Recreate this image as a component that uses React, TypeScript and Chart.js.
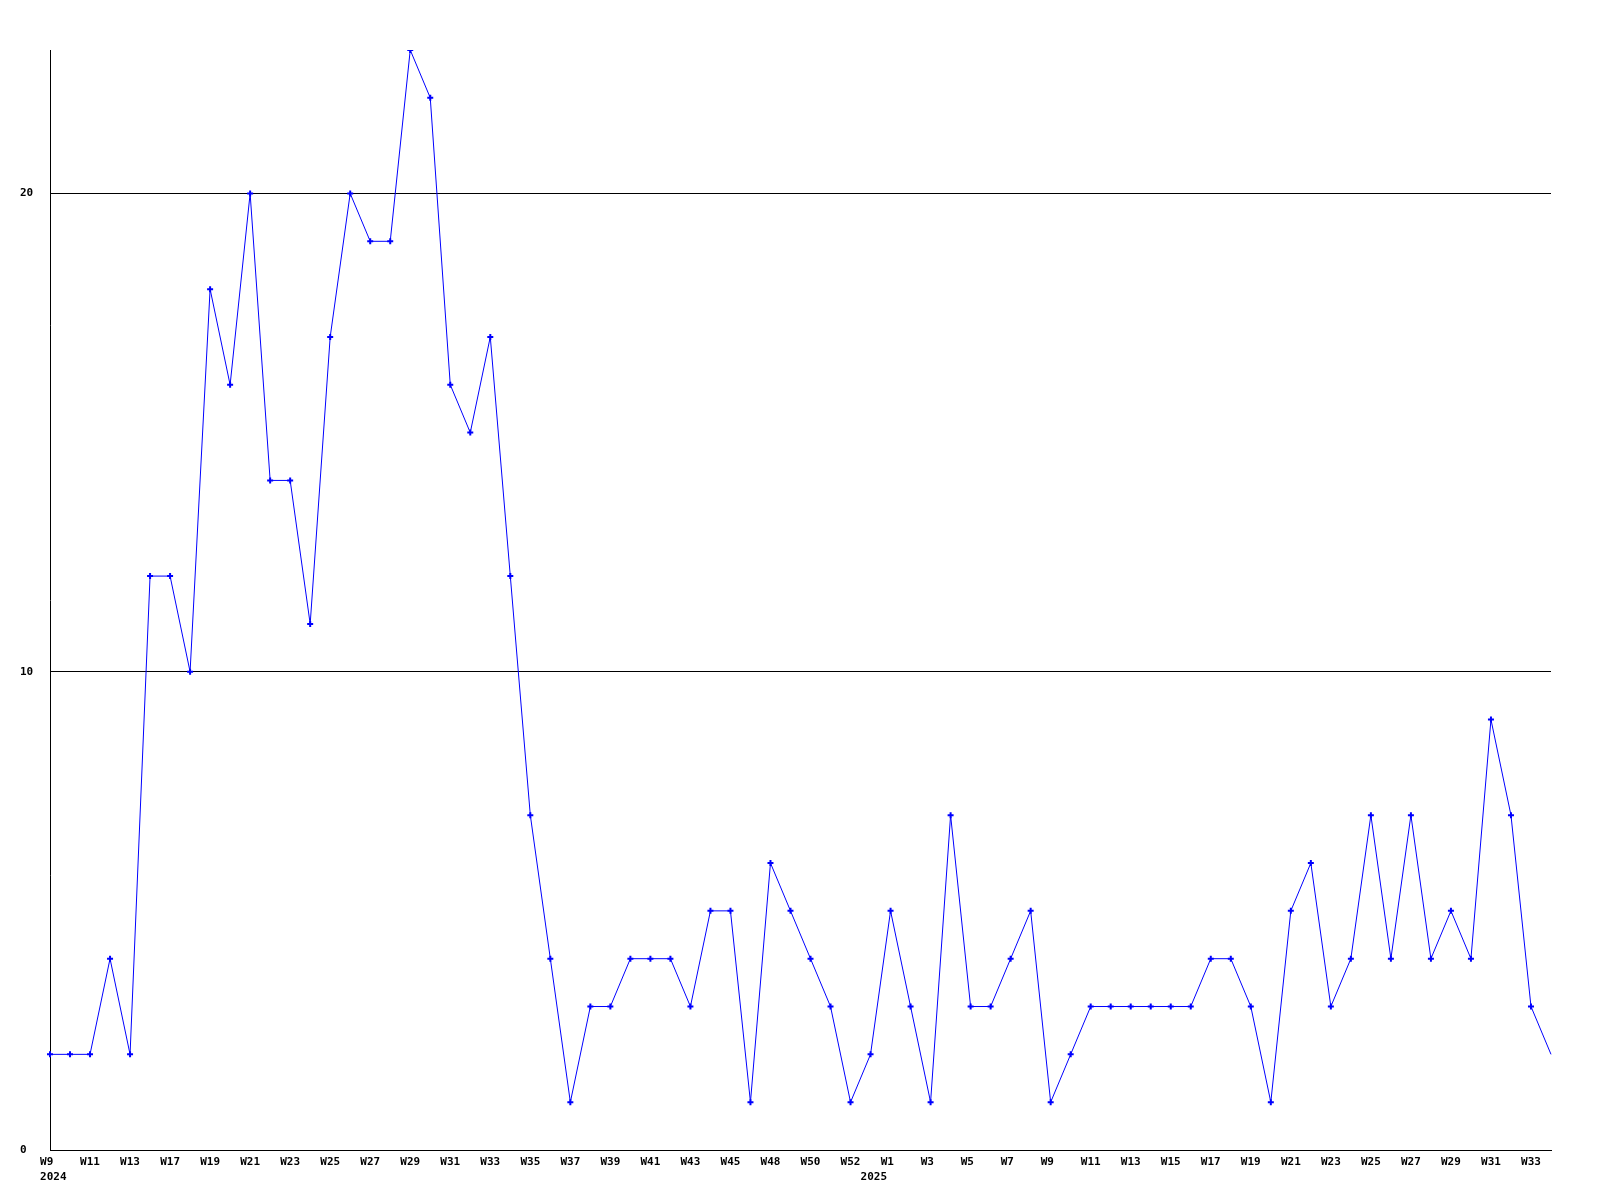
import React, { useEffect, useRef } from "react";
import { Chart, registerables } from "chart.js";

Chart.register(...registerables);

// Week labels shown on the x axis (every other data point carries one)
const shownWeekLabels = [
  "W9", "W11", "W13", "W17", "W19", "W21", "W23", "W25", "W27", "W29",
  "W31", "W33", "W35", "W37", "W39", "W41", "W43", "W45", "W48", "W50",
  "W52", "W1", "W3", "W5", "W7", "W9", "W11", "W13", "W15", "W17",
  "W19", "W21", "W23", "W25", "W27", "W29", "W31", "W33",
];

// Year markers: [category index, year]
const yearMarks: [number, string][] = [
  [0, "2024"],
  [41, "2025"],
];

// Weekly counts
const values = [
  2, 2, 2, 4, 2, 12, 12, 10, 18, 16,
  20, 14, 14, 11, 17, 20, 19, 19, 23, 22,
  16, 15, 17, 12, 7, 4, 1, 3, 3, 4,
  4, 4, 3, 5, 5, 1, 6, 5, 4, 3,
  1, 2, 5, 3, 1, 7, 3, 3, 4, 5,
  1, 2, 3, 3, 3, 3, 3, 3, 4, 4,
  3, 1, 5, 6, 3, 4, 7, 4, 7, 4,
  5, 4, 9, 7, 3, 2,
];

const yTicks = [0, 10, 20];

const categories: (string | string[])[] = values.map((_, i) => {
  const week = i % 2 === 0 ? shownWeekLabels[i / 2] ?? "" : "";
  const year = yearMarks.find((m) => m[0] === i);
  const weekText = week.length === 2 ? week + " " : week;
  return year ? [weekText, " " + year[1]] : weekText;
});

const FONT = "'DejaVu Sans Mono', 'Liberation Mono', monospace";

export default function App() {
  const ref = useRef<HTMLCanvasElement | null>(null);

  useEffect(() => {
    if (!ref.current) return;
    const lastIndex = values.length - 1;
    const chart = new Chart(ref.current, {
      type: "line",
      data: {
        labels: categories,
        datasets: [
          {
            data: values,
            borderColor: "#0000ff",
            backgroundColor: "#0000ff",
            borderWidth: 1,
            tension: 0,
            fill: false,
            pointStyle: "cross",
            pointRadius: (ctx: any) => (ctx.dataIndex === lastIndex ? 0 : 3),
            pointBorderWidth: 2,
            pointBorderColor: "#0000ff",
            pointBackgroundColor: "#0000ff",
          },
        ],
      },
      options: {
        responsive: false,
        devicePixelRatio: 1,
        animation: false,
        layout: { padding: { left: 20, top: 50, right: 49, bottom: 0 } },
        plugins: { legend: { display: false }, tooltip: { enabled: false } },
        scales: {
          x: {
            type: "category",
            offset: false,
            grid: { display: false, drawTicks: false },
            border: { display: true, color: "#000000", width: 1 },
            afterFit: (scale: any) => {
              scale.height = 50;
            },
            ticks: {
              autoSkip: false,
              maxRotation: 0,
              minRotation: 0,
              padding: 5,
              color: "#000000",
              font: { family: FONT, size: 11, weight: "bold", lineHeight: "14.5px" },
            },
          },
          y: {
            type: "linear",
            min: 0,
            max: Math.max(...values),
            afterBuildTicks: (scale: any) => {
              scale.ticks = yTicks.map((v) => ({ value: v }));
            },
            afterFit: (scale: any) => {
              scale.width = 30;
            },
            grid: {
              display: true,
              drawTicks: false,
              color: "#000000",
              lineWidth: 1,
            },
            border: { display: true, color: "#000000", width: 1 },
            ticks: {
              crossAlign: "far",
              padding: 0,
              color: "#000000",
              font: { family: FONT, size: 11, weight: "bold" },
            },
          },
        },
      },
    } as any);
    return () => chart.destroy();
  }, []);

  return (
    <div
      style={{
        position: "fixed",
        left: 0,
        top: 0,
        width: 1600,
        height: 1200,
        background: "#ffffff",
      }}
    >
      <canvas ref={ref} width={1600} height={1200} style={{ display: "block" }} />
    </div>
  );
}
